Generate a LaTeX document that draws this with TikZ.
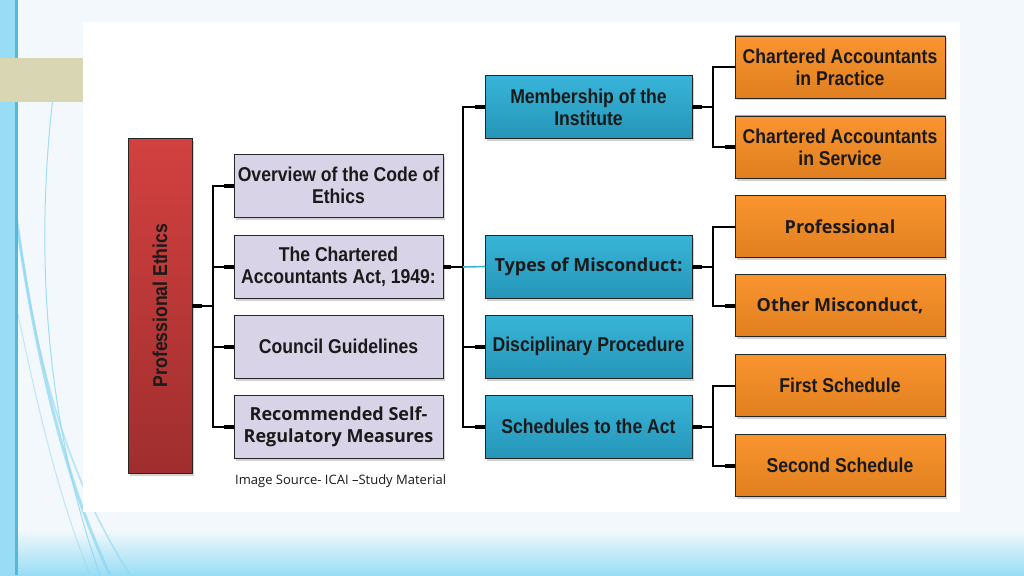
\documentclass[tikz,border=0pt]{standalone}
\usepackage{fontspec}
\setmainfont{Liberation Sans}
\newfontfamily\nb[FakeStretch=0.88]{Liberation Sans}
\newfontfamily\os{Open Sans}
\usetikzlibrary{shadows,calc}
\definecolor{bgc}{HTML}{F2F8FB}
\definecolor{barc}{HTML}{98DDF5}
\definecolor{baredge}{HTML}{55B8DA}
\definecolor{beige}{HTML}{D9D6B4}
\definecolor{redt}{HTML}{D24140}
\definecolor{redb}{HTML}{A02E2E}
\definecolor{purp}{HTML}{D9D3E8}
\definecolor{bluet}{HTML}{38B4D8}
\definecolor{blueb}{HTML}{2596B8}
\definecolor{orat}{HTML}{FA952F}
\definecolor{orab}{HTML}{E07F20}
\definecolor{txt}{HTML}{1A1A1A}
\definecolor{swoosh}{HTML}{8CD6F2}
\begin{document}
\begin{tikzpicture}[x=1pt,y=-1pt,
  box/.style={draw=black!85, line width=0.9pt, inner sep=0pt, outer sep=0pt, align=center,
    text=txt, drop shadow={shadow xshift=2pt, shadow yshift=-2.5pt, opacity=0.35}},
  narrowf/.style={font=\nb\bfseries\fontsize{20}{22}\selectfont},
  opensf/.style={font=\os\bfseries\fontsize{18}{22}\selectfont},
  redbox/.style={box, top color=redt, bottom color=redb, minimum width=64pt, minimum height=335pt},
  purpbox/.style={box, fill=purp, minimum width=209pt, minimum height=63pt},
  bluebox/.style={box, top color=bluet, bottom color=blueb, minimum width=207pt, minimum height=63pt},
  orabox/.style={box, top color=orat, bottom color=orab, minimum width=210pt, minimum height=62pt},
  conn/.style={draw=black, line width=2pt},
  stub/.style={draw=black, line width=4pt},
  cyanconn/.style={draw=bluet, line width=1.6pt}
]
\useasboundingbox (0,0) rectangle (1024,575);
% background
\fill[bgc] (0,0) rectangle (1024,575);
\shade[top color=bgc, bottom color=barc] (0,530) rectangle (1024,575);
\draw[swoosh, line width=1pt, opacity=0.8] (53,97) .. controls (35,250) and (45,420) .. (100,575);
\draw[swoosh, line width=3pt, opacity=0.7] (12,185) .. controls (30,330) and (60,470) .. (110,575);
\draw[swoosh, line width=1.5pt, opacity=0.6] (18,230) .. controls (40,380) and (70,480) .. (130,575);
\draw[swoosh, line width=1pt, opacity=0.5] (15,300) .. controls (40,420) and (60,500) .. (90,575);
\fill[barc] (0,0) rectangle (15,575);
\draw[baredge, line width=2.5pt] (16.5,0) -- (16.5,575);
\fill[white] (83,22) rectangle (960,512);
\fill[beige] (0,58) rectangle (83,102);

% nodes
\node[redbox] (pe) at (160,305.5) {};
\node[narrowf, rotate=90, text=txt] (pet) at (pe.center) {Professional Ethics};

\node[purpbox, narrowf] (p1) at (338.5,185.5) {Overview of the Code of\\Ethics};
\node[purpbox, narrowf] (p2) at (338.5,267) {The Chartered\\Accountants Act, 1949:};
\node[purpbox, narrowf] (p3) at (338.5,346.5) {Council Guidelines};
\node[purpbox, opensf] (p4) at (338.5,426.5) {Recommended Self-\\Regulatory Measures};

\node[bluebox, narrowf] (b1) at (588.5,107) {Membership of the\\Institute};
\node[bluebox, opensf] (b2) at (588.5,266.5) {Types of Misconduct:};
\node[bluebox, narrowf] (b3) at (588.5,346.5) {Disciplinary Procedure};
\node[bluebox, narrowf] (b4) at (588.5,426.5) {Schedules to the Act};

\node[orabox, narrowf] (o1) at (840,67) {Chartered Accountants\\in Practice};
\node[orabox, narrowf] (o2) at (840,147) {Chartered Accountants\\in Service};
\node[orabox, opensf] (o3) at (840,226.5) {Professional};
\node[orabox, opensf] (o4) at (840,305.5) {Other Misconduct,};
\node[orabox, narrowf] (o5) at (840,385.5) {First Schedule};
\node[orabox, narrowf] (o6) at (840,465.5) {Second Schedule};

\node[font=\os\fontsize{13}{15}\selectfont, text=txt, anchor=west, inner sep=0pt] (src) at (235,481) {Image Source- ICAI –Study Material};

% connectors
\coordinate (bus1) at ($(pe.east)+(21,0)$);
\foreach \t in {p1,p2,p3,p4}{
  \draw[conn] (pe.east) -- (bus1) |- (\t.west);
  \draw[stub] ($(\t.west)+(-10,0)$) -- (\t.west);
}
\draw[stub] (pe.east) -- ++(10,0);

\coordinate (bus2) at ($(p2.east)+(20,0)$);
\draw[conn] (p2.east) -- (bus2);
\draw[stub] (p2.east) -- ++(8,0);
\foreach \t in {b1,b3,b4}{
  \draw[conn] (bus2) |- (\t.west);
  \draw[stub] ($(\t.west)+(-10,0)$) -- (\t.west);
}
\draw[cyanconn] (bus2) -- (b2.west);

\foreach \s/\a/\b in {b1/o1/o2, b2/o3/o4, b4/o5/o6}{
  \coordinate (bb) at ($(\s.east)+(21,0)$);
  \draw[conn] (\s.east) -- (bb) |- (\a.west);
  \draw[conn] (bb) |- (\b.west);
  \draw[stub] (\s.east) -- ++(10,0);
  \draw[stub] ($(\b.west)+(-10,0)$) -- (\b.west);
}
\end{tikzpicture}
\end{document}
